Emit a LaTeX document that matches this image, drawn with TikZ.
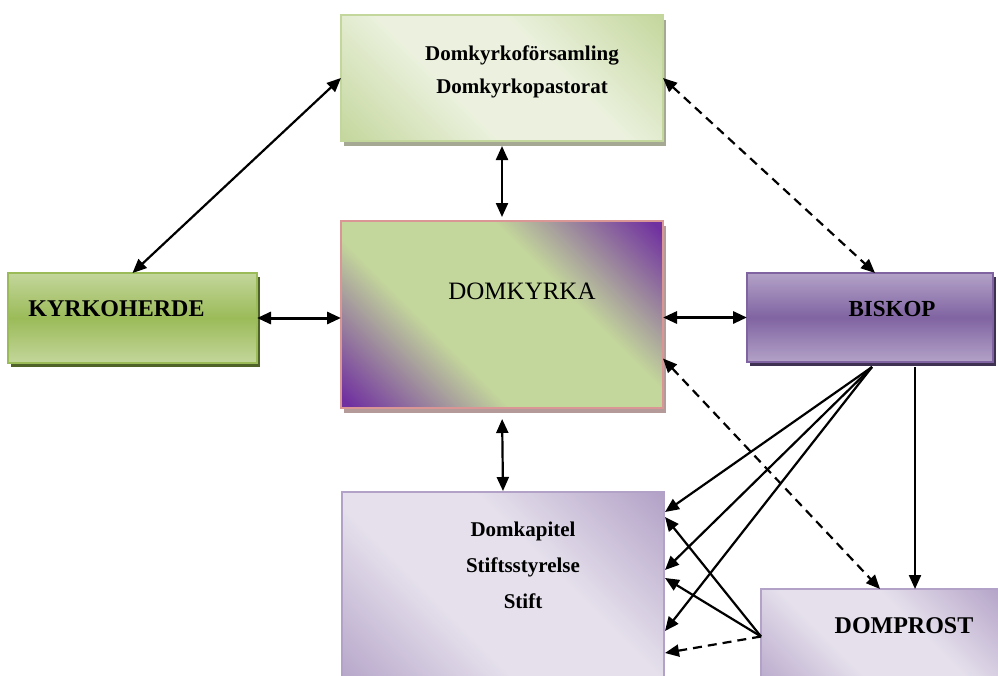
\documentclass[tikz,border=0pt]{standalone}
\usepackage{fontspec}
\setmainfont{Liberation Serif}
\usetikzlibrary{arrows.meta,shadows}

\definecolor{forgreen}{HTML}{C3D69B}
\definecolor{forlight}{HTML}{EBF1DE}
\definecolor{forshadow}{HTML}{A5A993}
\definecolor{kyrpurple}{HTML}{7030A0}
\definecolor{kyrgreen}{HTML}{C3D69B}
\definecolor{kyrborder}{HTML}{D99694}
\definecolor{kyrshadow}{HTML}{B59A9A}
\definecolor{herdelight}{HTML}{C3D69B}
\definecolor{herdedark}{HTML}{9BBB59}
\definecolor{herdeshadow}{HTML}{4F6228}
\definecolor{biskoplight}{HTML}{B3A2C7}
\definecolor{biskopdark}{HTML}{8064A2}
\definecolor{biskopshadow}{HTML}{3F3151}
\definecolor{stiftpurple}{HTML}{B3A2C7}
\definecolor{stiftlight}{HTML}{E5E0EC}

% diagonal shadings: dark corners, light middle
\pgfdeclarehorizontalshading{forsamlingshade}{100bp}{color(0bp)=(forgreen); color(14bp)=(forgreen); color(40bp)=(forlight); color(60bp)=(forlight); color(86bp)=(forgreen); color(100bp)=(forgreen)}
\pgfdeclarehorizontalshading{domkyrkashade}{100bp}{color(0bp)=(kyrpurple); color(16bp)=(kyrpurple); color(38bp)=(kyrgreen); color(62bp)=(kyrgreen); color(84bp)=(kyrpurple); color(100bp)=(kyrpurple)}
\pgfdeclarehorizontalshading{stiftshade}{100bp}{color(0bp)=(stiftpurple); color(15bp)=(stiftpurple); color(40bp)=(stiftlight); color(60bp)=(stiftlight); color(85bp)=(stiftpurple); color(100bp)=(stiftpurple)}

\begin{document}
\begin{tikzpicture}[x=1pt,y=-1pt,
    box/.style={rectangle, inner sep=0pt, outer sep=0pt},
    txt/.style={inner sep=0pt, anchor=base, align=center},
    arr/.style={-{Triangle[length=14pt,width=12pt]}, line width=2.2pt},
    both/.style={{Triangle[length=14pt,width=12pt]}-{Triangle[length=14pt,width=12pt]}, line width=2.2pt},
    dashline/.style={dash pattern=on 9pt off 6pt}]
  \path[use as bounding box, clip] (0,0) rectangle (998,675);

  % Boxes
  \node[box, minimum width=322pt, minimum height=126pt, shade, shading=forsamlingshade, shading angle=45,
        draw=forgreen, line width=1.5pt, general shadow={fill=forshadow, shadow xshift=3pt, shadow yshift=-5pt}]
        (forsamling) at (502,78) {};
  \node[box, minimum width=322pt, minimum height=187pt, shade, shading=domkyrkashade, shading angle=45,
        draw=kyrborder, line width=2pt, general shadow={fill=kyrshadow, shadow xshift=3pt, shadow yshift=-5pt}]
        (domkyrka) at (502,314.5) {};
  \node[box, minimum width=249pt, minimum height=90pt, top color=herdelight, bottom color=herdelight, middle color=herdedark,
        draw=herdedark, line width=1.5pt, general shadow={fill=herdeshadow, shadow xshift=3pt, shadow yshift=-4pt}]
        (kyrkoherde) at (132.5,318) {};
  \node[box, minimum width=246pt, minimum height=89pt, top color=biskoplight, bottom color=biskoplight, middle color=biskopdark,
        draw=biskopdark, line width=1.5pt, general shadow={fill=biskopshadow, shadow xshift=3pt, shadow yshift=-4pt}]
        (biskop) at (870,317.5) {};
  \node[box, minimum width=322pt, minimum height=203pt, shade, shading=stiftshade, shading angle=45,
        draw=stiftpurple, line width=1.5pt] (domkapitel) at (503,593.5) {};
  \node[box, minimum width=244pt, minimum height=111pt, shade, shading=stiftshade, shading angle=45,
        draw=stiftpurple, line width=1.5pt] (domprost) at (883,644.5) {};

  % Texts
  \node[txt, font=\fontsize{21}{33}\selectfont\bfseries] (forsamlingtext) at (522,93) {Domkyrkoförsamling\\Domkyrkopastorat};
  \node[txt, font=\fontsize{25}{30}\selectfont] (domkyrkatext) at (522,299) {DOMKYRKA};
  \node[txt, font=\fontsize{24}{28}\selectfont\bfseries] (kyrkoherdetext) at (116.5,316) {KYRKOHERDE};
  \node[txt, font=\fontsize{23}{28}\selectfont\bfseries] (biskoptext) at (892,316) {BISKOP};
  \node[txt, font=\fontsize{21}{36}\selectfont\bfseries] (domkapiteltext) at (523,608) {Domkapitel\\Stiftsstyrelse\\Stift};
  \node[txt, font=\fontsize{24}{28}\selectfont\bfseries] (domprosttext) at (904,633) {DOMPROST};

  % Connectors
  \draw[both] (kyrkoherde.north) -- (forsamling.west);
  \draw[both, shorten <=5pt, shorten >=4pt] (forsamling.south) -- (domkyrka.north);
  \draw[both, dashline] (forsamling.east) -- ([xshift=5pt]biskop.north);
  \draw[both, line width=3pt] (kyrkoherde.east) -- (kyrkoherde.east -| domkyrka.west);
  \draw[both, line width=3pt] (biskop.west -| domkyrka.east) -- (biskop.west);
  \draw[both, shorten <=11pt, shorten >=1pt] (domkyrka.south) -- (domkapitel.north);
  \draw[both, dashline] ([yshift=-44pt]domkyrka.east) -- ([xshift=-3pt]domprost.north);

  \coordinate (biskopfan) at ([xshift=2pt,yshift=-5pt]biskop.south);
  \foreach \s in {81.5,23.5,-37.5}
    \draw[arr] (biskopfan) -- ([xshift=1pt,yshift=\s pt]domkapitel.east);
  \draw[arr, shorten <=5pt] ([xshift=45pt]biskop.south) -- ([xshift=32pt]domprost.north);

  \coordinate (domprostfan) at ([yshift=8pt]domprost.west);
  \foreach \s in {76.5,15.5}
    \draw[arr] (domprostfan) -- ([xshift=1pt,yshift=\s pt]domkapitel.east);
  \draw[arr, dashline] (domprostfan) -- ([xshift=1pt,yshift=-59.5pt]domkapitel.east);
\end{tikzpicture}
\end{document}
